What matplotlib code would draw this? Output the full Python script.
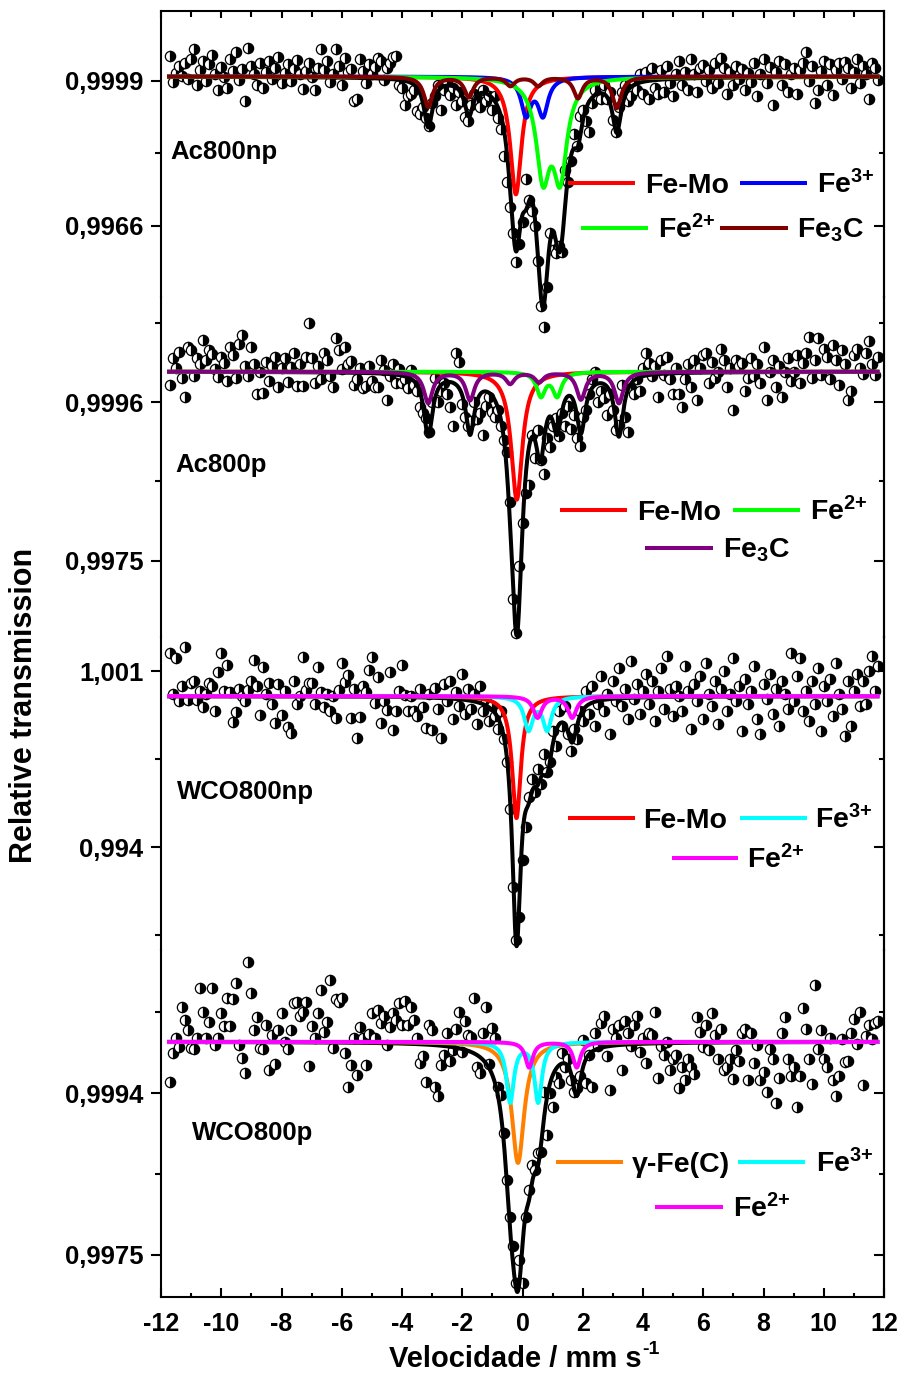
import numpy as np
import matplotlib
matplotlib.use("Agg")
import matplotlib.pyplot as plt
from matplotlib.lines import Line2D

plt.rcParams['font.family'] = ['Liberation Sans', 'DejaVu Sans']
plt.rcParams['font.weight'] = 'bold'
plt.rcParams['axes.unicode_minus'] = False
plt.rcParams['mathtext.fontset'] = 'custom'
plt.rcParams['mathtext.rm'] = 'Liberation Sans:bold'
plt.rcParams['mathtext.it'] = 'Liberation Sans:bold'
plt.rcParams['mathtext.bf'] = 'Liberation Sans:bold'
plt.rcParams['mathtext.default'] = 'rm'

# ---------------- data ----------------
V_START, V_STEP, N_CH = -11.7, 0.1, 236
velocity = V_START + V_STEP * np.arange(N_CH)

ac800np_data = [
    1.00048, 0.99988, 1.00008, 1.00025, 1.00002, 1.00030, 0.99995, 1.00040, 1.00063, 0.99982,
    1.00015, 1.00035, 0.99990, 1.00028, 1.00050, 1.00005, 0.99970, 1.00022, 1.00000, 0.99975,
    1.00040, 1.00012, 1.00055, 0.99992, 1.00018, 0.99945, 1.00064, 1.00025, 1.00005, 0.99980,
    1.00030, 0.99975, 1.00010, 1.00035, 0.99995, 1.00020, 1.00045, 0.99985, 1.00008, 1.00028,
    0.99990, 1.00018, 1.00038, 1.00005, 0.99972, 1.00012, 1.00030, 0.99998, 0.99970, 1.00020,
    1.00063, 1.00015, 1.00035, 0.99988, 1.00005, 1.00062, 1.00025, 0.99980, 1.00042, 1.00010,
    1.00018, 0.99945, 0.99950, 1.00040, 1.00012, 0.99985, 1.00028, 1.00005, 1.00022, 1.00042,
    1.00035, 0.99992, 1.00020, 1.00030, 1.00045, 1.00048, 0.99980, 0.99975, 0.99936, 0.99955,
    0.99960, 0.99970, 0.99921, 0.99914, 0.99930, 0.99905, 0.99888, 0.99940, 0.99955, 0.99980,
    0.99925, 0.99970, 0.99990, 0.99958, 0.99975, 0.99936, 0.99965, 0.99945, 0.99909, 0.99898,
    0.99935, 0.99960, 0.99950, 0.99930, 0.99970, 0.99945, 0.99955, 0.99925, 0.99955, 0.99905,
    0.99880, 0.99820, 0.99760, 0.99704, 0.99645, 0.99577, 0.99620, 0.99670, 0.99766, 0.99720,
    0.99693, 0.99659, 0.99580, 0.99477, 0.99431, 0.99522, 0.99645, 0.99606, 0.99599, 0.99615,
    0.99601, 0.99788, 0.99760, 0.99807, 0.99870, 0.99841, 0.99910, 0.99925, 0.99900, 0.99873,
    0.99941, 0.99970, 0.99955, 0.99950, 0.99980, 0.99948, 0.99965, 0.99902, 0.99875, 0.99930,
    0.99964, 0.99980, 0.99945, 0.99955, 0.99990, 0.99970, 1.00005, 0.99960, 1.00011, 0.99948,
    1.00020, 0.99975, 0.99960, 1.00015, 0.99965, 1.00025, 0.99985, 0.99955, 1.00005, 1.00035,
    0.99980, 1.00010, 0.99970, 1.00039, 1.00005, 0.99965, 1.00020, 1.00027, 0.99990, 1.00015,
    0.99975, 1.00030, 0.99985, 1.00043, 1.00020, 0.99960, 1.00011, 0.99980, 1.00025, 0.99995,
    1.00018, 0.99970, 1.00008, 0.99988, 1.00030, 0.99955, 1.00005, 1.00039, 0.99985, 1.00022,
    0.99935, 1.00010, 1.00035, 0.99980, 1.00028, 0.99965, 1.00005, 1.00020, 0.99960, 1.00015,
    1.00030, 1.00057, 0.99990, 1.00025, 0.99941, 0.99970, 1.00012, 1.00035, 0.99980, 1.00028,
    0.99959, 1.00015, 1.00030, 0.99995, 1.00034, 1.00020, 0.99975, 1.00010, 1.00040, 0.99985,
    1.00025, 1.00005, 0.99950, 1.00030, 1.00020, 0.99992,
]

ac800p_data = [
    0.99982, 1.00018, 1.00005, 1.00026, 0.99992, 0.99967, 1.00033, 1.00029, 0.99995, 1.00018,
    1.00010, 1.00042, 1.00015, 1.00029, 1.00024, 1.00003, 0.99993, 1.00020, 1.00012, 0.99988,
    1.00033, 1.00022, 0.99992, 1.00036, 1.00049, 1.00007, 0.99995, 1.00032, 1.00010, 0.99970,
    1.00000, 0.99972, 1.00013, 0.99988, 1.00008, 1.00020, 0.99980, 1.00005, 1.00018, 0.99987,
    1.00006, 1.00025, 0.99981, 1.00010, 0.99981, 1.00020, 1.00065, 1.00018, 0.99985, 1.00008,
    0.99990, 1.00025, 1.00016, 0.99995, 0.99980, 1.00045, 1.00029, 1.00003, 1.00033, 1.00010,
    1.00014, 0.99982, 0.99990, 1.00005, 0.99978, 0.99981, 1.00008, 0.99988, 0.99980, 0.99980,
    1.00016, 1.00002, 0.99963, 0.99995, 1.00010, 0.99985, 1.00003, 0.99985, 0.99990, 0.99978,
    1.00002, 0.99982, 0.99974, 0.99954, 0.99945, 0.99939, 0.99920, 0.99960, 0.99992, 0.99960,
    0.99975, 0.99985, 0.99970, 0.99954, 0.99928, 1.00025, 1.00013, 0.99957, 0.99940, 0.99928,
    0.99935, 0.99960, 0.99937, 0.99945, 0.99917, 0.99955, 0.99967, 0.99947, 0.99940, 0.99950,
    0.99928, 0.99910, 0.99894, 0.99828, 0.99700, 0.99655, 0.99743, 0.99800, 0.99840, 0.99851,
    0.99917, 0.99886, 0.99923, 0.99884, 0.99865, 0.99912, 0.99900, 0.99928, 0.99939, 0.99915,
    0.99945, 0.99928, 0.99955, 0.99925, 0.99943, 0.99912, 0.99902, 0.99940, 0.99950, 0.99970,
    0.99990, 1.00000, 0.99960, 0.99975, 0.99965, 0.99943, 0.99970, 0.99950, 0.99923, 0.99930,
    0.99983, 0.99940, 0.99921, 0.99979, 0.99970, 0.99990, 0.99975, 1.00005, 1.00025, 1.00012,
    0.99995, 1.00008, 0.99967, 1.00015, 0.99996, 1.00020, 0.99990, 0.99970, 1.00005, 0.99970,
    0.99954, 0.99991, 1.00010, 0.99980, 1.00015, 0.99963, 1.00005, 1.00022, 1.00025, 0.99985,
    1.00013, 0.99992, 1.00000, 1.00030, 1.00016, 0.99980, 1.00005, 0.99950, 1.00016, 1.00008,
    1.00012, 0.99975, 0.99992, 1.00018, 0.99995, 1.00010, 0.99985, 1.00033, 0.99963, 1.00000,
    1.00015, 0.99980, 1.00008, 0.99967, 1.00000, 1.00018, 0.99988, 1.00000, 1.00022, 0.99985,
    1.00012, 1.00025, 1.00046, 0.99992, 1.00016, 1.00045, 0.99996, 1.00030, 1.00020, 0.99990,
    1.00035, 1.00015, 0.99982, 1.00029, 1.00010, 0.99963, 0.99974, 1.00022, 1.00030, 1.00005,
    0.99997, 1.00025, 1.00040, 1.00010, 0.99996, 1.00020,
]

wco800np_data = [
    1.00171, 1.00008, 1.00151, 0.99980, 1.00040, 1.00195, 0.99985, 1.00052, 1.00060, 0.99985,
    1.00020, 0.99956, 1.00010, 1.00052, 1.00040, 0.99940, 1.00095, 1.00171, 1.00020, 1.00123,
    1.00016, 0.99897, 0.99936, 1.00030, 1.00000, 0.99980, 1.00024, 1.00060, 1.00143, 1.00040,
    0.99924, 1.00115, 1.00010, 1.00052, 0.99970, 0.99893, 1.00048, 0.99924, 1.00020, 0.99877,
    0.99853, 1.00060, 0.99970, 1.00000, 1.00155, 1.00025, 1.00052, 1.00052, 0.99968, 1.00115,
    1.00016, 0.99956, 1.00008, 0.99940, 1.00000, 0.99913, 1.00024, 1.00131, 1.00056, 1.00083,
    0.99913, 1.00030, 0.99833, 0.99916, 1.00040, 1.00016, 1.00103, 1.00155, 0.99972, 1.00075,
    0.99893, 0.99980, 0.99944, 1.00095, 0.99865, 0.99940, 1.00020, 1.00123, 1.00004, 0.99940,
    1.00000, 0.99940, 0.99920, 1.00030, 0.99956, 0.99873, 1.00010, 0.99865, 1.00032, 0.99950,
    0.99833, 1.00048, 0.99980, 1.00060, 0.99910, 1.00015, 0.99960, 1.00090, 0.99930, 1.00030,
    0.99950, 1.00010, 0.99890, 1.00040, 0.99940, 0.99980, 0.99900, 0.99960, 0.99920, 0.99870,
    0.99940, 0.99830, 0.99740, 0.99550, 0.99240, 0.99030, 0.99120, 0.99350, 0.99480, 0.99600,
    0.99670, 0.99620, 0.99710, 0.99650, 0.99770, 0.99700, 0.99740, 0.99860, 0.99800, 0.99940,
    0.99880, 0.99960, 0.99850, 0.99780, 0.99870, 0.99830, 0.99940, 0.99900, 1.00020, 0.99930,
    1.00040, 0.99880, 0.99970, 1.00080, 0.99940, 1.00010, 0.99850, 1.00060, 0.99980, 1.00110,
    0.99960, 1.00030, 0.99910, 1.00140, 0.99990, 1.00050, 0.99930, 1.00020, 1.00090, 0.99970,
    1.00060, 0.99900, 1.00020, 1.00110, 0.99950, 1.00160, 1.00030, 0.99920, 1.00040, 1.00000,
    0.99940, 1.00120, 1.00020, 0.99870, 1.00050, 0.99980, 1.00080, 0.99910, 1.00130, 1.00010,
    0.99960, 1.00060, 0.99890, 1.00030, 1.00100, 0.99940, 1.00010, 1.00150, 0.99980, 1.00040,
    0.99860, 1.00070, 0.99970, 1.00020, 1.00120, 0.99910, 0.99850, 1.00050, 0.99990, 1.00090,
    0.99930, 1.00030, 0.99880, 1.00060, 1.00010, 0.99950, 1.00170, 0.99980, 1.00080, 1.00150,
    0.99940, 1.00020, 0.99900, 1.00060, 0.99970, 1.00110, 0.99860, 1.00040, 0.99980, 1.00070,
    0.99920, 1.00130, 1.00010, 0.99950, 0.99840, 1.00060, 0.99880, 1.00020, 1.00090, 0.99960,
    1.00060, 0.99970, 1.00100, 1.00160, 1.00020, 1.00120,
]

wco800p_data = [
    0.99953, 0.99987, 1.00005, 0.99994, 1.00041, 1.00026, 1.00014, 0.99993, 0.99992, 1.00005,
    1.00063, 1.00035, 1.00005, 1.00023, 1.00063, 0.99996, 1.00005, 1.00034, 1.00018, 1.00052,
    1.00018, 1.00050, 1.00069, 0.99996, 0.99981, 0.99964, 1.00094, 1.00057, 1.00014, 1.00029,
    0.99993, 0.99992, 1.00020, 0.99967, 1.00008, 0.99974, 1.00014, 1.00034, 1.00000, 0.99992,
    1.00014, 1.00046, 1.00047, 1.00030, 1.00035, 1.00047, 0.99972, 1.00018, 1.00004, 1.00034,
    1.00061, 1.00011, 1.00023, 1.00073, 0.99993, 1.00050, 1.00047, 1.00052, 0.99987, 0.99947,
    0.99973, 1.00005, 0.99961, 1.00017, 1.00005, 0.99973, 1.00009, 1.00034, 1.00005, 1.00037,
    1.00022, 1.00030, 0.99996, 1.00017, 1.00034, 1.00026, 1.00046, 1.00020, 1.00048, 1.00020,
    1.00041, 1.00026, 1.00005, 0.99975, 0.99983, 0.99953, 1.00020, 1.00014, 0.99947, 0.99936,
    0.99973, 0.99985, 1.00010, 0.99977, 0.99990, 1.00015, 1.00035, 0.99988, 1.00025, 1.00008,
    1.00006, 1.00052, 0.99970, 0.99964, 1.00010, 1.00041, 0.99974, 1.00016, 1.00005, 0.99947,
    0.99938, 0.99893, 0.99838, 0.99795, 0.99760, 0.99717, 0.99744, 0.99717, 0.99795, 0.99826,
    0.99856, 0.99850, 0.99870, 0.99871, 0.99941, 0.99891, 0.99940, 0.99924, 0.99959, 0.99952,
    0.99987, 0.99970, 0.99980, 0.99955, 0.99941, 0.99946, 0.99960, 1.00002, 0.99952, 0.99985,
    0.99947, 1.00010, 0.99995, 1.00022, 1.00030, 0.99983, 0.99943, 1.00015, 1.00005, 1.00020,
    0.99967, 1.00025, 1.00010, 0.99995, 1.00020, 1.00030, 0.99988, 1.00005, 0.99975, 1.00010,
    1.00008, 1.00035, 0.99958, 0.99995, 0.99985, 1.00000, 0.99967, 0.99980, 0.99985, 0.99946,
    0.99970, 0.99955, 0.99980, 0.99971, 0.99962, 1.00029, 1.00012, 0.99994, 1.00020, 0.99990,
    1.00034, 1.00008, 0.99980, 1.00015, 0.99967, 0.99971, 0.99980, 0.99957, 0.99990, 0.99978,
    1.00010, 1.00015, 0.99955, 1.00010, 0.99975, 0.99996, 0.99955, 0.99965, 0.99941, 0.99992,
    0.99980, 0.99928, 0.99958, 1.00010, 1.00029, 0.99980, 0.99960, 0.99970, 0.99924, 0.99960,
    1.00040, 1.00015, 0.99980, 0.99950, 1.00067, 0.99992, 1.00014, 0.99980, 0.99970, 1.00005,
    0.99955, 0.99936, 0.99960, 1.00003, 0.99976, 0.99978, 1.00010, 1.00027, 0.99997, 1.00035,
    0.99949, 1.00007, 1.00020, 1.00003, 1.00022, 1.00025,
]

# fitted sub-spectra: line centres (mm/s) and line depths
BASE = 1.0
ac800np_femo_pos = [-0.22];                 ac800np_femo_depth = [0.00268]
ac800np_fe3_pos = [0.12, 0.68];             ac800np_fe3_depth = [0.00084, 0.00084]
ac800np_fe2_pos = [0.68, 1.25];             ac800np_fe2_depth = [0.00212, 0.00212]
ac800np_fe3c_pos = [-3.13, -1.78, -0.40, 0.52, 1.84, 3.13]
ac800np_fe3c_depth = [0.00068, 0.00046, 0.00020, 0.00020, 0.00048, 0.00071]

ac800p_femo_pos = [-0.19];                  ac800p_femo_depth = [0.00169]
ac800p_fe2_pos = [0.61, 1.15];              ac800p_fe2_depth = [0.00031, 0.00031]
ac800p_fe3c_pos = [-3.13, -1.74, -0.41, 0.55, 1.94, 3.20]
ac800p_fe3c_depth = [0.00041, 0.00037, 0.00015, 0.00013, 0.00036, 0.00041]

wco800np_femo_pos = [-0.20];                wco800np_femo_depth = [0.00485]
wco800np_fe3_pos = [0.20, 0.82];            wco800np_fe3_depth = [0.00130, 0.00130]
wco800np_fe2_pos = [0.50, 1.65];            wco800np_fe2_depth = [0.00085, 0.00085]

wco800p_gfe_pos = [-0.15];                  wco800p_gfe_depth = [0.00142]
wco800p_fe3_pos = [-0.41, 0.52];            wco800p_fe3_depth = [0.00070, 0.00070]
wco800p_fe2_pos = [0.22, 1.80];             wco800p_fe2_depth = [0.00030, 0.00030]

# ---------------- helpers ----------------
def lorentz(v, pos, depth, fwhm):
    out = np.zeros_like(v)
    hw = fwhm / 2.0
    for c, d in zip(pos, depth):
        out += d / (1.0 + ((v - c) / hw) ** 2)
    return out

W_PX, H_PX = 903, 1373
fig = plt.figure(figsize=(W_PX / 100, H_PX / 100), dpi=100)

X0, X1 = 161, 884
vgrid = np.linspace(-11.8, 11.85, 3000)

SUP3 = 'Fe$^{3{+}}$'
SUP2 = 'Fe$^{2{+}}$'
FE3C = 'Fe$_3$C'

# comps: (label, colour, centres, depths, fwhm shown, weight in total fit, fwhm in total fit)
panels = [
    dict(name='Ac800np', data=ac800np_data, top=11, bot=297,
         ylim=(0.994984, 1.001493), major=[0.9999, 0.9966], labels=['0,9999', '0,9966'],
         minor=[0.99825],
         comps=[('Fe-Mo', '#ff0000', ac800np_femo_pos, ac800np_femo_depth, 0.45, 1.15, 0.45),
                (SUP3, '#0000ff', ac800np_fe3_pos, ac800np_fe3_depth, 0.40, 1.3, 0.40),
                (SUP2, '#00ff00', ac800np_fe2_pos, ac800np_fe2_depth, 0.55, 1.45, 0.55),
                (FE3C, '#800000', ac800np_fe3c_pos, ac800np_fe3c_depth, 0.35, 1.6, 0.35)],
         label_xy=(170, 159),
         legend=[(568, 635, 183, 0, 645), (740, 807, 183, 1, 817),
                 (581, 648, 228, 2, 658), (720, 788, 228, 3, 797)]),
    dict(name='Ac800p', data=ac800p_data, top=297, bot=637,
         ylim=(0.996496, 1.000987), major=[0.9996, 0.9975], labels=['0,9996', '0,9975'],
         minor=[1.00065, 0.99855],
         comps=[('Fe-Mo', '#ff0000', ac800p_femo_pos, ac800p_femo_depth, 0.45, 1.95, 0.45),
                (SUP2, '#00ff00', ac800p_fe2_pos, ac800p_fe2_depth, 0.35, 2.0, 0.35),
                (FE3C, '#800080', ac800p_fe3c_pos, ac800p_fe3c_depth, 0.35, 2.0, 0.35)],
         label_xy=(175, 472),
         legend=[(560, 627, 510, 0, 637), (733, 800, 510, 1, 810),
                 (645, 713, 548, 2, 723)]),
    dict(name='WCO800np', data=wco800np_data, top=637, bot=950,
         ylim=(0.9899034, 1.0023523), major=[1.001, 0.994], labels=['1,001', '0,994'],
         minor=[0.9975, 0.9905],
         comps=[('Fe-Mo', '#ff0000', wco800np_femo_pos, wco800np_femo_depth, 0.35, 1.9, 0.35),
                (SUP3, '#00ffff', wco800np_fe3_pos, wco800np_fe3_depth, 0.35, 1.6, 0.45),
                (SUP2, '#ff00ff', wco800np_fe2_pos, wco800np_fe2_depth, 0.35, 1.8, 0.40)],
         label_xy=(177, 799),
         legend=[(568, 635, 818, 0, 643), (740, 807, 818, 1, 815),
                 (672, 738, 858, 2, 747)]),
    dict(name='WCO800p', data=wco800p_data, top=950, bot=1297,
         ylim=(0.9970074, 1.0010772), major=[0.9994, 0.9975], labels=['0,9994', '0,9975'],
         minor=[1.00035, 0.99845],
         comps=[('\u03b3-Fe(C)', '#ff8000', wco800p_gfe_pos, wco800p_gfe_depth, 0.50, 1.6, 0.55),
                (SUP3, '#00ffff', wco800p_fe3_pos, wco800p_fe3_depth, 0.30, 1.3, 0.50),
                (SUP2, '#ff00ff', wco800p_fe2_pos, wco800p_fe2_depth, 0.30, 1.8, 0.35)],
         label_xy=(192, 1140),
         legend=[(556, 623, 1162, 0, 632), (738, 805, 1162, 1, 816),
                 (655, 723, 1207, 2, 733)]),
]

LW_FIT = 2.9
SPINE_LW = 1.5

for k, p in enumerate(panels):
    ax = fig.add_axes([X0 / W_PX, 1 - p['bot'] / H_PX, (X1 - X0) / W_PX,
                       (p['bot'] - p['top']) / H_PX])
    ax.set_xlim(-12, 12)
    ax.set_ylim(*p['ylim'])
    ax.patch.set_alpha(0)

    ax.plot(velocity, p['data'], linestyle='none', marker='o', markersize=7.4,
            fillstyle='right', markerfacecolor='black', markerfacecoloralt='white',
            markeredgecolor='black', markeredgewidth=0.9, zorder=2, clip_on=False)

    total = np.zeros_like(vgrid)
    for (lab, col, pos, dep, fw, wt, fwt) in p['comps']:
        total += wt * lorentz(vgrid, pos, dep, fwt)
    ax.plot(vgrid, BASE - total, color='black', lw=LW_FIT, zorder=3,
            solid_capstyle='butt', clip_on=False)
    for j, (lab, col, pos, dep, fw, wt, fwt) in enumerate(p['comps']):
        ax.plot(vgrid, BASE - lorentz(vgrid, pos, dep, fw), color=col, lw=LW_FIT,
                zorder=4 + j, solid_capstyle='butt', clip_on=False)

    # spines
    for s in ['left', 'right']:
        ax.spines[s].set_linewidth(SPINE_LW)
    ax.spines['top'].set_visible(k == 0)
    ax.spines['bottom'].set_visible(k == len(panels) - 1)
    ax.spines['top'].set_linewidth(SPINE_LW)
    ax.spines['bottom'].set_linewidth(SPINE_LW)

    # y ticks (left outward, right inward)
    ax.set_yticks(p['major'], p['labels'])
    ax.set_yticks(p['minor'], minor=True)
    ax.tick_params(axis='y', which='major', direction='out', length=7.2, width=SPINE_LW,
                   labelsize=18.5, pad=5.5, left=True, right=False)
    ax.tick_params(axis='y', which='minor', direction='out', length=4.3, width=SPINE_LW,
                   left=True, right=False)
    sec = ax.secondary_yaxis('right')
    sec.set_yticks(p['major'])
    sec.set_yticks(p['minor'], minor=True)
    sec.tick_params(axis='y', which='major', direction='in', length=7.2, width=SPINE_LW,
                    labelright=False)
    sec.tick_params(axis='y', which='minor', direction='in', length=3.6, width=SPINE_LW,
                    labelright=False)
    sec.spines['right'].set_linewidth(SPINE_LW)

    # x ticks
    ax.set_xticks(np.arange(-12, 13, 2))
    ax.set_xticks(np.arange(-11, 12, 2), minor=True)
    if k == 0:
        ax.tick_params(axis='x', which='both', direction='in', top=True, bottom=False,
                       labeltop=False, labelbottom=False, width=SPINE_LW)
        ax.tick_params(axis='x', which='major', length=5)
        ax.tick_params(axis='x', which='minor', length=4)
    elif k == len(panels) - 1:
        ax.set_xticklabels([str(t) for t in range(-12, 13, 2)])
        ax.tick_params(axis='x', which='both', direction='in', top=False, bottom=True,
                       width=SPINE_LW, labelsize=18, pad=11)
        ax.tick_params(axis='x', which='major', length=6.5)
        ax.tick_params(axis='x', which='minor', length=3.2)
    else:
        ax.tick_params(axis='x', which='both', top=False, bottom=False,
                       labelbottom=False)

    # sample label
    lx, ly = p['label_xy']
    fig.text(lx / W_PX, 1 - ly / H_PX, p['name'], fontsize=18.5, ha='left', va='baseline')

    # legend
    for (xa, xb, yy, ci, tx) in p['legend']:
        lab, col = p['comps'][ci][0], p['comps'][ci][1]
        fig.add_artist(Line2D([xa / W_PX, xb / W_PX], [1 - yy / H_PX] * 2,
                              transform=fig.transFigure, color=col, lw=LW_FIT,
                              solid_capstyle='butt'))
        fig.text(tx / W_PX, 1 - (yy + 10) / H_PX, lab, fontsize=20.5, ha='left',
                 va='baseline')

# axis titles
xl = fig.text(389 / W_PX, 1 - 1367 / H_PX, 'Velocidade / mm s', fontsize=21,
              ha='left', va='baseline')
renderer = fig.canvas.get_renderer()
bb = xl.get_window_extent(renderer)
fig.text((bb.x1 + 1) / W_PX, 1 - 1354 / H_PX, '-1', fontsize=14, ha='left',
         va='baseline')
fig.text(24 / W_PX, 1 - 705 / H_PX, 'Relative transmission', fontsize=22,
         rotation=90, ha='center', va='center')

fig.savefig('out.png', dpi=100)
